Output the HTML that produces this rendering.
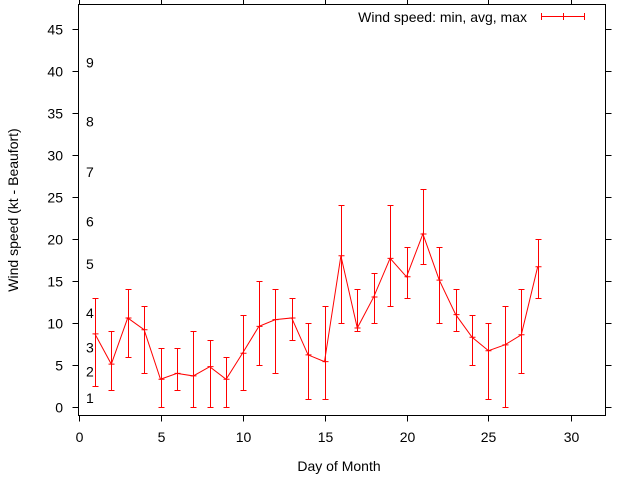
<!DOCTYPE html>
<html><head><meta charset="utf-8"><style>
body{margin:0;background:#fff}
svg{display:block;font-family:"Liberation Sans",sans-serif}
</style></head><body>
<svg id="chart" width="640" height="480">
<g id="axes"></g><g id="marks"></g>
</svg>
<script>
const days=[1,2,3,4,5,6,7,8,9,10,11,12,13,14,15,16,17,18,19,20,21,22,23,24,25,26,27,28];
const avgVals=[8.7,5.1,10.6,9.2,3.3,4.0,3.7,4.8,3.3,6.4,9.6,10.4,10.6,6.2,5.4,18.0,9.4,13.1,17.7,15.5,20.6,15.1,11.0,8.3,6.7,7.4,8.6,16.7];
const minVals=[2.5,2,6,4,0,2,0,0,0,2,5,4,8,1,1,10,9,10,12,13,17,10,9,5,1,0,4,13];
const maxVals=[13,9,14,12,7,7,9,8,6,11,15,14,13,10,12,24,14,16,24,19,26,19,14,11,10,12,14,20];
const xTicks=[0,5,10,15,20,25,30];
const yTicks=[0,5,10,15,20,25,30,35,40,45];
const beaufortLabels=["1","2","3","4","5","6","7","8","9"];
const beaufortVals=[1.07,4.2,7.1,11.2,17.0,22.1,28.0,34.0,41.0];
const X=v=>78.5+v*16.4, Y=v=>407-v*8.4;
const NS="http://www.w3.org/2000/svg";
function mk(p,t,a){const e=document.createElementNS(NS,t);for(const k in a)e.setAttribute(k,a[k]);p.appendChild(e);return e;}
const ax=document.getElementById('axes'), mg=document.getElementById('marks');
const L=78.5,R=605.5,T=4.5,B=415.5;
const frame=mk(ax,'rect',{x:L,y:T,width:R-L,height:B-T,fill:'none',stroke:'#000','stroke-width':1});


xTicks.forEach(t=>{
 const x=Math.round(X(t))+0.5;
 const a=mk(ax,'path',{d:`M${x} ${B}v6M${x} ${T}v-6`,stroke:'#000'});
 
 
 const l=mk(ax,'text',{x:x,y:442,'text-anchor':'middle','font-size':14,fill:'#000'});l.textContent=t;
 
 
});
yTicks.forEach(t=>{
 const y=Math.round(Y(t))+0.5;
 const a=mk(ax,'path',{d:`M${L} ${y}h-6M${R} ${y}h6`,stroke:'#000'});
 
 
 const l=mk(ax,'text',{x:63,y:y+5,'text-anchor':'end','font-size':14,fill:'#000'});l.textContent=t;
 
 
});
beaufortLabels.forEach((b,i)=>{
 const l=mk(ax,'text',{x:86,y:Y(beaufortVals[i])+5,'font-size':14,fill:'#000'});l.textContent=b;
 
 
});
const xt=mk(ax,'text',{x:339,y:471,'text-anchor':'middle','font-size':14});xt.textContent='Day of Month';


const yt=mk(ax,'text',{x:0,y:0,'text-anchor':'middle','font-size':14,transform:'translate(18,210) rotate(-90)'});yt.textContent='Wind speed (kt - Beaufort)';


const lg=mk(ax,'text',{x:527,y:22,'text-anchor':'end','font-size':14});lg.textContent='Wind speed: min, avg, max';


const ls=mk(ax,'path',{d:'M541 16.5h44M541.5 13v7M584.5 13v7M563.5 13v7',stroke:'#f00',fill:'none'});


const line=mk(mg,'polyline',{points:days.map((d,i)=>X(d)+','+Y(avgVals[i])).join(' '),fill:'none',stroke:'#f00'});


days.forEach((d,i)=>{
 const x=Math.round(X(d))+0.5,y1=Math.round(Y(minVals[i]))+0.5,y2=Math.round(Y(maxVals[i]))+0.5,ya=Y(avgVals[i]);
 const e=mk(mg,'path',{d:`M${x} ${y1}V${y2}M${x-3} ${y1}h6M${x-3} ${y2}h6M${x-3} ${ya}h6`,stroke:'#f00',fill:'none'});
 
 
});
</script>
</body></html>
